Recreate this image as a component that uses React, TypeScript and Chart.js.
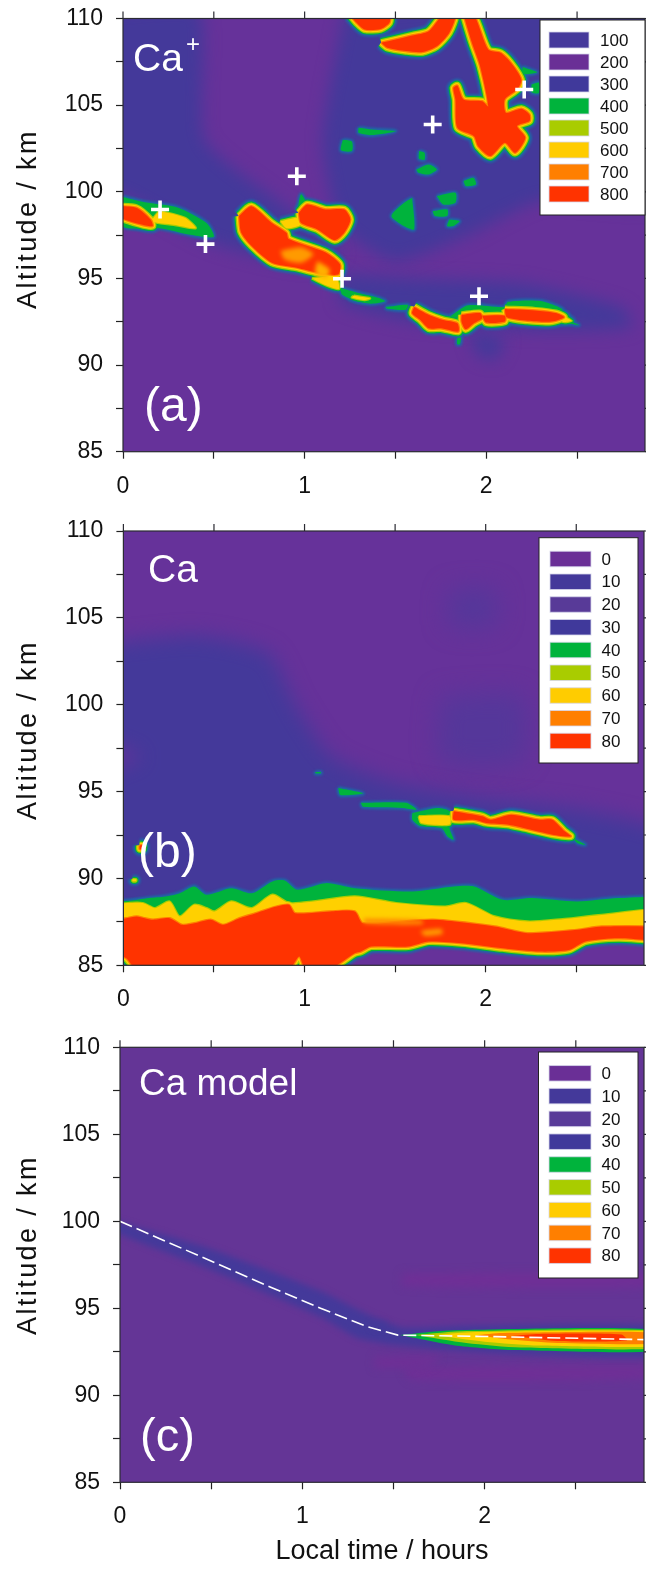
import { useEffect, useRef } from 'react';
import { Chart, registerables } from 'chart.js';

type Pt = [number, number];

// ---------- shared tick / legend values ----------
const altitudeMin = 85;
const altitudeMax = 110;
const hoursMax = 2.874;
const caIonLegendValues = ['100', '200', '300', '400', '500', '600', '700', '800'];
const caIonLegendColors = ['#45399b', '#6a2f96', '#40399b', '#00b33c', '#a9cc00', '#ffcc00', '#ff7f00', '#ff3300'];
const caLegendValues = ['0', '10', '20', '30', '40', '50', '60', '70', '80'];
const caLegendColors = ['#6a2f96', '#44399a', '#583a98', '#40399b', '#00b33c', '#a9cc00', '#ffcc00', '#ff7f00', '#ff3300'];
const contourColors = ['#1f66a6', '#00b33c', '#a9cc00', '#ffd000', '#ff7f00', '#ff3300'];
const fieldPurple = '#66329a';
const fieldBlue = '#44399a';
const fieldMid = '#55379a';

// ---------- panel (a) Ca+ ----------
const caIonBlue: Pt[][] = [
  [[-0.1, 110.5], [0.42, 110.5], [0.45, 103], [0.85, 99.5], [1.2, 96.5], [1.0, 95.8], [0.5, 97], [0, 99.8], [-0.1, 100]],
  [[1.22, 110.5], [3, 110.5], [3, 99.5], [2.3, 99.5], [1.9, 97.5], [1.5, 96], [1.2, 98], [1.1, 103]],
  [[1.2, 95.3], [1.6, 95], [2.2, 94.7], [2.75, 93.3], [2.8, 92.2], [2.3, 92], [1.6, 92.5], [1.2, 93.6]],
  [[1.9, 92], [2.1, 91.5], [2.05, 90.3], [1.95, 90.6]],
];
const caIonRed: Pt[][] = [
  [[1.25, 110.2], [1.467, 110.2], [1.467, 109.75], [1.42, 109.4], [1.33, 109.37], [1.286, 109.75]],
  [[1.422, 108.6], [1.592, 109.02], [1.683, 109.27], [1.762, 110.2], [1.83, 110.2], [1.796, 109.17], [1.728, 108.4], [1.649, 108.06], [1.558, 108.12], [1.456, 108.31]],
  [[1.875, 110.2], [1.932, 110.2], [2.011, 108.21], [2.079, 108.02], [2.136, 107.44], [2.193, 106.48], [2.17, 105.9], [2.102, 105.33], [2.109, 104.56], [2.193, 104.79], [2.238, 104.46], [2.238, 104.08], [2.17, 103.79], [2.215, 103.12], [2.159, 102.25], [2.102, 102.83], [2.023, 102.06], [1.955, 102.63], [1.932, 103.21], [1.841, 103.69], [1.83, 105.33], [1.819, 106], [1.841, 106.13], [1.875, 105.33], [1.977, 105.23], [2.011, 104.94], [1.966, 107.25], [1.921, 108.6]],
  [[-0.03, 99.17], [0.073, 99.08], [0.152, 98.4], [0.163, 98.02], [0.095, 98.12], [-0.03, 98.6]],
  [[0.639, 98.6], [0.707, 99.17], [0.82, 98.2], [0.9, 97.63], [0.912, 97.28], [1.116, 96.5], [1.195, 95.82], [1.184, 95.23], [1.07, 95.33], [0.957, 95.62], [0.82, 95.91], [0.707, 96.89], [0.65, 97.67]],
  [[0.968, 98.79], [1.014, 99.27], [1.116, 98.98], [1.218, 98.98], [1.252, 98.4], [1.218, 97.63], [1.166, 97.21], [1.07, 97.83], [0.98, 98.21]],
  [[1.603, 93.35], [1.683, 92.9], [1.762, 92.6], [1.841, 92.41], [1.846, 91.93], [1.751, 92.12], [1.683, 92.12], [1.637, 92.6], [1.592, 92.99]],
  [[1.864, 92.9], [1.966, 93], [1.977, 92.7], [1.932, 92.41], [1.887, 92.06], [1.864, 92.5]],
  [[1.977, 92.84], [2.102, 92.84], [2.102, 92.51], [2, 92.45]],
  [[2.102, 93.23], [2.27, 93.15], [2.383, 93], [2.429, 92.76], [2.36, 92.51], [2.227, 92.56], [2.113, 92.76]],
];
const caIonYellow: Pt[][] = [
  [[0.2, 98.9], [0.34, 98.5], [0.4, 97.9], [0.28, 98.1], [0.16, 98.3]],
  [[0.866, 98.3], [0.968, 98.5], [0.98, 98.1], [0.9, 97.9]],
  [[1.04, 95], [1.17, 95.1], [1.19, 94.4], [1.13, 94.55]],
  [[1.27, 94], [1.36, 93.85], [1.33, 93.75], [1.26, 93.9]],
  [[2.42, 92.85], [2.47, 92.55], [2.42, 92.5]],
];
const caIonGreen: Pt[][] = [
  [[0, 99.7], [0.12, 99.4], [0.3, 99.1], [0.46, 98.2], [0.5, 97.4], [0.38, 97.5], [0.2, 97.9], [0, 98]],
  [[0.96, 98.9], [0.98, 99.85], [1.02, 99.3], [1.1, 99]],
  [[1.195, 94.46], [1.297, 94.16], [1.41, 93.87], [1.444, 93.68], [1.365, 93.54], [1.274, 93.74], [1.206, 94.07]],
  [[1.444, 93.35], [1.569, 93.48], [1.558, 93.19], [1.456, 93.25]],
  [[1.8, 92.8], [1.9, 93.45], [2.1, 93.35], [2.12, 93.65], [2.3, 93.7], [2.42, 93.2], [2.3, 92.9], [1.9, 92.7]],
  [[2.45, 92.6], [2.51, 92.3], [2.42, 92.5]],
  [[1.297, 103.69], [1.365, 103.6], [1.501, 103.5], [1.365, 103.27], [1.297, 103.4]],
  [[1.21, 103], [1.26, 102.9], [1.26, 102.35], [1.2, 102.4]],
  [[1.63, 102.35], [1.66, 102.25], [1.66, 101.85], [1.63, 101.9]],
  [[1.615, 101.29], [1.683, 101.58], [1.728, 101.29], [1.683, 101], [1.626, 101.1]],
  [[1.875, 100.62], [1.93, 100.8], [1.943, 100.42], [1.887, 100.33]],
  [[1.592, 99.65], [1.603, 97.83], [1.546, 98.02], [1.478, 98.6], [1.546, 99.35]],
  [[1.728, 99.75], [1.83, 99.94], [1.83, 99.37], [1.762, 99.27]],
  [[1.705, 98.88], [1.785, 98.98], [1.785, 98.6], [1.717, 98.6]],
  [[1.796, 98.4], [1.853, 98.31], [1.819, 98.02], [1.785, 98.02]],
  [[1.84, 91.55], [1.86, 91.6], [1.855, 91.2], [1.84, 91.2]],
  [[2.25, 106.2], [2.29, 106.3], [2.29, 105.7], [2.25, 105.75]],
  [[2.2, 107.2], [2.28, 106.9], [2.2, 106.8]],
];
const caIonPatches: { color: string; pts: Pt[] }[] = [
  { color: '#ff9a00', pts: [[0.866, 96.6], [0.98, 96.8], [1.048, 96.4], [0.98, 95.9], [0.889, 96.1]] },
  { color: '#ffb000', pts: [[1.07, 96], [1.138, 95.5], [1.116, 95], [1.059, 95.3]] },
];
const crossHours = [0.204, 0.454, 0.957, 1.206, 1.705, 1.96, 2.209];
const crossAltitudes = [98.98, 96.98, 100.9, 94.98, 103.88, 93.97, 105.9];

// ---------- panel (b) Ca ----------
const caBlue: Pt[][] = [
  [[-0.1, 103.5], [0.4, 104], [0.8, 103], [0.95, 100], [1.15, 97], [1.5, 95.5], [2, 94.6], [2.5, 94], [3, 92.6], [3, 88], [-0.1, 88], [-0.1, 96], [0.1, 97], [-0.1, 98]],
];
const caFaintBlue: Pt[][] = [
  [[1.8, 106.6], [2.05, 106.6], [2.05, 104.6], [1.8, 104.6]],
  [[1.75, 100.5], [2.2, 100.5], [2.2, 96.8], [1.75, 96.8]],
];
const caRed: Pt[][] = [
  [[-0.05, 87.6], [0.016, 87.71], [0.073, 87.81], [0.118, 87.71], [0.164, 87.62], [0.255, 87.71], [0.323, 87.33], [0.391, 87.42], [0.482, 87.62], [0.55, 87.33], [0.641, 87.71], [0.732, 88], [0.845, 88.38], [0.914, 88.48], [0.948, 88], [1.141, 88.1], [1.277, 88.1], [1.323, 87.42], [1.709, 87.62], [2.05, 87.23], [2.232, 86.85], [2.505, 87.04], [2.641, 87.23], [3, 87.13], [3, 86.46], [2.732, 86.56], [2.55, 86.37], [2.459, 85.88], [2.3, 85.79], [2.095, 85.98], [1.868, 86.27], [1.686, 86.37], [1.573, 86.08], [1.368, 86.08], [1.311, 85.79], [1.277, 85.69], [1.141, 84.8], [1.005, 84.8], [0.97, 85.5], [0.914, 84.8], [0.073, 84.8], [0.016, 85.4], [-0.05, 85.8]],
  [[1.823, 93.87], [1.982, 93.58], [2.027, 93.38], [2.141, 93.67], [2.3, 93.38], [2.368, 93.38], [2.436, 92.71], [2.47, 92.42], [2.368, 92.52], [2.209, 92.9], [2.118, 93.1], [2.005, 93.19], [1.936, 93.38], [1.823, 93.38]],
  [[0.09, 91.9], [0.105, 91.9], [0.105, 91.7], [0.09, 91.7]],
];
const caYellow: Pt[][] = [
  [[-0.05, 88.5], [0.027, 88.58], [0.107, 88.58], [0.175, 88.29], [0.255, 88.67], [0.311, 87.81], [0.391, 88.48], [0.459, 88.29], [0.505, 88.1], [0.595, 88.67], [0.709, 88.29], [0.823, 89.06], [0.914, 88.58], [1.05, 88.67], [1.277, 88.96], [1.505, 88.58], [1.777, 88.38], [1.891, 88.58], [2.05, 87.81], [2.232, 87.52], [2.391, 87.62], [2.641, 87.9], [3, 88.19], [3, 87], [-0.05, 87]],
  [[1.63, 93.58], [1.8, 93.58], [1.8, 93.1], [1.645, 93.19]],
  [[0.05, 89.95], [0.07, 89.95], [0.07, 89.85], [0.05, 89.85]],
];
const caGreen: Pt[][] = [
  [[-0.05, 88.4], [0.027, 88.67], [0.141, 88.87], [0.232, 88.96], [0.311, 89.15], [0.391, 89.54], [0.459, 89.06], [0.595, 89.44], [0.709, 89.15], [0.823, 89.83], [0.891, 89.88], [0.959, 89.35], [1.118, 89.73], [1.277, 89.44], [1.595, 89.25], [1.823, 89.54], [1.936, 89.54], [2.095, 88.77], [2.255, 88.87], [2.505, 88.67], [2.732, 88.87], [3, 88.77], [3, 87], [-0.05, 87]],
  [[1.595, 93.77], [1.732, 94.06], [1.8, 93.87], [1.8, 92.9], [1.823, 92.23], [1.789, 92.42], [1.755, 92.9], [1.641, 93], [1.595, 93.38]],
  [[2.482, 92.33], [2.55, 91.94], [2.505, 92.04]],
  [[1.311, 94.35], [1.561, 94.35], [1.618, 93.96], [1.539, 94.06], [1.323, 94.12]],
  [[1.186, 95.2], [1.323, 94.9], [1.198, 94.8]],
  [[1.06, 96.12], [1.09, 96.12], [1.09, 96.05], [1.06, 96.05]],
];
const caPatches: { color: string; pts: Pt[] }[] = [
  { color: '#ff9a00', pts: [[1.64, 87], [1.755, 87.1], [1.76, 86.8], [1.66, 86.7]] },
  { color: '#ff8a00', pts: [[1.33, 87.7], [1.65, 87.6], [1.65, 87.35], [1.33, 87.4]] },
];

// ---------- panel (c) Ca model ----------
const modelBlue: Pt[][] = [
  [[-0.05, 100.1], [0.5, 98.4], [1.1, 96], [1.35, 94.7], [1.55, 93.9], [1.9, 94], [3, 93.95], [3, 92.3], [2.2, 92.35], [1.8, 92.6], [1.5, 92.9], [1.3, 93.3], [1.1, 94.5], [0.5, 97.2], [-0.05, 99.5]],
  [[1.38, 94.15], [1.46, 94.15], [1.46, 93.9], [1.38, 93.9]],
];
const modelLight: Pt[][] = [
  [[1.55, 97], [3, 97], [3, 96.2], [1.55, 96.3]],
  [[1.55, 91.6], [3, 91.7], [3, 91], [1.6, 90.9]],
  [[1.4, 92.2], [1.75, 92.2], [1.7, 91.7], [1.4, 91.6]],
];
const modelBandGreen: Pt[] = [[1.535, 93.46], [1.83, 93.74], [3, 93.74], [3, 92.6], [2.17, 92.6], [1.83, 92.88]];
const modelBandLime: Pt[] = [[1.62, 93.46], [1.9, 93.69], [3, 93.69], [3, 92.74], [2.2, 92.74], [1.9, 93]];
const modelBandYellow: Pt[] = [[1.72, 93.46], [1.95, 93.64], [3, 93.64], [3, 92.86], [2.3, 92.86], [2, 93.08]];
const modelBandOrange: Pt[] = [[1.95, 93.45], [2.1, 93.58], [3, 93.58], [3, 93], [2.4, 93], [2.15, 93.2]];
const modelBandRed: Pt[] = [[2.15, 93.42], [2.3, 93.53], [2.75, 93.5], [2.78, 93.15], [2.4, 93.12]];
const ionLayerHours = [0, 0.83, 1.1, 1.354, 1.524, 2.057, 2.88];
const ionLayerAltitudes = [100, 96.2, 95, 93.95, 93.46, 93.37, 93.2];

// ---------- drawing ----------
const softLayer = {
  id: 'softLayer',
  beforeDatasetDraw(chart: any, args: any) {
    const soft = chart.data.datasets[args.index].softness;
    chart.ctx.save();
    if (soft) chart.ctx.filter = `blur(${soft}px)`;
  },
  afterDatasetDraw(chart: any) {
    chart.ctx.restore();
  },
};
Chart.register(softLayer as any, ...registerables);
const FONT = '"Liberation Sans", Arial, sans-serif';
Chart.defaults.font.family = FONT;

const RIM = 2.4;

function shape(pts: Pt[], color: string, border = 0, soft = 0, tension = 0.25) {
  return {
    data: [...pts, pts[0]].map(([x, y]) => ({ x, y })),
    showLine: true,
    fill: 'shape',
    backgroundColor: color,
    borderColor: color,
    borderWidth: border,
    borderJoinStyle: 'round',
    pointRadius: 0,
    tension,
    clip: 0,
    softness: soft,
  };
}

function contours(groups: { polys: Pt[][]; top: number }[]) {
  const out: any[] = [];
  contourColors.forEach((color, level) => {
    for (const g of groups) {
      if (g.top < level) continue;
      const width = (g.top - level) * RIM + (level === 0 ? 1.5 : 0);
      for (const p of g.polys) out.push(shape(p, color, width, level === 0 ? 0.9 : 0.5));
    }
  });
  return out;
}

function series(xs: number[], ys: number[]) {
  return xs.map((x, i) => ({ x, y: ys[i] }));
}

const panelA = {
  top: 0, height: 510, left: 123, right: 645, plotTop: 18.5, plotBottom: 451.7, tickPad: 14,
  title: { baseX: 36, centerY: 219 },
  labels: [
    { text: 'Ca', x: 133, y: 71, size: 39 },
    { text: '+', x: 186, y: 52, size: 24 },
    { text: '(a)', x: 144, y: 421, size: 48 },
  ],
  legend: { x0: 540, x1: 645, y0: 20, y1: 215, sx0: 549, sx1: 589, tx: 600, first: 40, step: 22, sh: 16, values: caIonLegendValues, colors: caIonLegendColors },
  datasets: [
    ...caIonBlue.map((p) => shape(p, fieldBlue, 0, 8, 0.2)),
    ...contours([{ polys: caIonRed, top: 5 }, { polys: caIonYellow, top: 3 }, { polys: caIonGreen, top: 1 }]),
    ...caIonPatches.map((p) => shape(p.pts, p.color, 0, 2)),
    { data: series(crossHours, crossAltitudes), showLine: false, pointStyle: 'cross', pointRadius: 9, pointBorderWidth: 3.6, pointBorderColor: '#ffffff', pointBackgroundColor: '#ffffff', clip: 0 },
  ],
};

const panelB = {
  top: 510, height: 510, left: 123.4, right: 644, plotTop: 21, plotBottom: 455.3, tickPad: 14,
  title: { baseX: 36, centerY: 220 },
  labels: [
    { text: 'Ca', x: 148, y: 72, size: 39 },
    { text: '(b)', x: 138, y: 357, size: 48 },
  ],
  legend: { x0: 539, x1: 638, y0: 27.7, y1: 253, sx0: 550, sx1: 591, tx: 601.5, first: 49, step: 22.75, sh: 15.5, values: caLegendValues, colors: caLegendColors },
  datasets: [
    ...caFaintBlue.map((p) => shape(p, fieldMid, 0, 12, 0.2)),
    ...caBlue.map((p) => shape(p, fieldBlue, 0, 10, 0.2)),
    ...contours([{ polys: caRed, top: 5 }, { polys: caYellow, top: 3 }, { polys: caGreen, top: 1 }]),
    ...caPatches.map((p) => shape(p.pts, p.color, 0, 2)),
  ],
};

const panelC = {
  top: 1020, height: 551, left: 120, right: 644, plotTop: 27.3, plotBottom: 462.3, tickPad: 14,
  title: { baseX: 36, centerY: 225 },
  xTitle: 'Local time / hours',
  labels: [
    { text: 'Ca model', x: 139, y: 75, size: 37 },
    { text: '(c)', x: 140, y: 431, size: 47 },
  ],
  legend: { x0: 538.5, x1: 638, y0: 32, y1: 258, sx0: 549, sx1: 591, tx: 601.5, first: 53.3, step: 22.8, sh: 15.5, values: caLegendValues, colors: caLegendColors },
  datasets: [
    ...modelLight.map((p) => shape(p, '#6f2f96', 0, 4, 0.2)),
    ...modelBlue.map((p) => shape(p, fieldBlue, 0, 3, 0.2)),
    shape(modelBandGreen, '#00b33c', 0, 0.6),
    shape(modelBandLime, '#a9cc00', 0, 0.6),
    shape(modelBandYellow, '#ffd000', 0, 0.6),
    shape(modelBandOrange, '#ff7f00', 0, 0.6),
    shape(modelBandRed, '#ff3300', 0, 0.6),
    { data: series(ionLayerHours, ionLayerAltitudes), showLine: true, fill: false, borderColor: '#ffffff', borderWidth: 1.6, borderDash: [13, 5], pointRadius: 0, tension: 0, clip: 0 },
  ],
};

type Spec = any;

function decoration(spec: Spec) {
  return {
    id: 'decoration',
    beforeDatasetsDraw(chart: any) {
      const { ctx, chartArea: a } = chart;
      ctx.save();
      ctx.fillStyle = spec === panelC ? '#643596' : fieldPurple;
      ctx.fillRect(a.left, a.top, a.right - a.left, a.bottom - a.top);
      ctx.restore();
    },
    afterDraw(chart: any) {
      const { ctx, chartArea: a, scales } = chart;
      ctx.save();
      // frame and the mirrored ticks on the top and right
      ctx.strokeStyle = '#2b2b33';
      ctx.lineWidth = 1.2;
      ctx.strokeRect(a.left, a.top, a.right - a.left, a.bottom - a.top);
      ctx.beginPath();
      for (const t of scales.x.ticks) {
        const px = scales.x.getPixelForValue(t.value);
        ctx.moveTo(px, a.top);
        ctx.lineTo(px, a.top - 7);
      }
      for (const t of scales.y.ticks) {
        const py = scales.y.getPixelForValue(t.value);
        ctx.moveTo(a.right, py);
        ctx.lineTo(a.right + 7, py);
      }
      ctx.stroke();

      // white panel labels
      ctx.fillStyle = '#ffffff';
      ctx.textAlign = 'left';
      ctx.textBaseline = 'alphabetic';
      for (const l of spec.labels) {
        ctx.font = `${l.size}px ${FONT}`;
        ctx.fillText(l.text, l.x, l.y);
      }

      // legend
      const g = spec.legend;
      ctx.fillStyle = '#ffffff';
      ctx.fillRect(g.x0, g.y0, g.x1 - g.x0, g.y1 - g.y0);
      ctx.strokeStyle = '#222';
      ctx.lineWidth = 1;
      ctx.strokeRect(g.x0, g.y0, g.x1 - g.x0, g.y1 - g.y0);
      ctx.font = `17px ${FONT}`;
      ctx.textBaseline = 'middle';
      g.values.forEach((v: string, i: number) => {
        const cy = g.first + i * g.step;
        ctx.fillStyle = g.colors[i];
        ctx.fillRect(g.sx0, cy - g.sh / 2, g.sx1 - g.sx0, g.sh);
        ctx.strokeStyle = 'rgba(215,215,235,0.8)';
        ctx.strokeRect(g.sx0, cy - g.sh / 2, g.sx1 - g.sx0, g.sh);
        ctx.fillStyle = '#111';
        ctx.fillText(v, g.tx, cy + 1);
      });

      // y axis title
      ctx.save();
      ctx.translate(spec.title.baseX, spec.title.centerY);
      ctx.rotate(-Math.PI / 2);
      ctx.textAlign = 'center';
      ctx.textBaseline = 'alphabetic';
      ctx.fillStyle = '#111';
      ctx.font = `27px ${FONT}`;
      (ctx as any).letterSpacing = '2.4px';
      ctx.fillText('Altitude / km', 0, 0);
      ctx.restore();
      ctx.restore();
    },
  };
}

function buildConfig(spec: Spec) {
  const xAxisHeight = spec.height - spec.plotBottom;
  return {
    type: 'scatter',
    data: { datasets: [...spec.datasets].reverse() },
    options: {
      responsive: false,
      animation: false,
      devicePixelRatio: 1,
      layout: { autoPadding: false, padding: { left: 0, top: spec.plotTop, right: 646 - spec.right, bottom: 0 } },
      plugins: { legend: { display: false }, tooltip: { enabled: false } },
      scales: {
        x: {
          type: 'linear',
          min: 0,
          max: hoursMax,
          afterFit(s: any) {
            s.height = xAxisHeight;
            s.paddingLeft = s.paddingRight = s.paddingTop = s.paddingBottom = 0;
          },
          grid: { display: true, drawOnChartArea: false, drawTicks: true, tickLength: 7, tickColor: '#222', tickWidth: 1.2 },
          border: { display: false },
          title: spec.xTitle
            ? { display: true, text: spec.xTitle, color: '#111', font: { size: 27 }, padding: { top: 0, bottom: 3 } }
            : { display: false },
          ticks: {
            stepSize: 0.5,
            includeBounds: false,
            autoSkip: false,
            maxRotation: 0,
            padding: spec.tickPad,
            color: '#111',
            font: { size: 23 },
            callback: (v: number) => (Number.isInteger(v) ? String(v) : ''),
          },
        },
        y: {
          type: 'linear',
          min: altitudeMin,
          max: altitudeMax,
          afterFit(s: any) {
            s.width = spec.left;
            s.paddingLeft = s.paddingRight = s.paddingTop = s.paddingBottom = 0;
          },
          grid: { display: true, drawOnChartArea: false, drawTicks: true, tickLength: 7, tickColor: '#222', tickWidth: 1.2 },
          border: { display: false },
          ticks: {
            stepSize: 2.5,
            includeBounds: false,
            autoSkip: false,
            padding: 13,
            color: '#111',
            font: { size: 23 },
            callback: (v: number) => (v % 5 === 0 ? String(v) : ''),
          },
        },
      },
    },
    plugins: [decoration(spec)],
  };
}

function Panel({ spec }: { spec: Spec }) {
  const ref = useRef<HTMLCanvasElement>(null);
  useEffect(() => {
    const chart = new Chart(ref.current as HTMLCanvasElement, buildConfig(spec) as any);
    return () => chart.destroy();
  }, [spec]);
  return (
    <canvas
      ref={ref}
      width={646}
      height={spec.height}
      style={{ position: 'absolute', left: 0, top: spec.top, display: 'block' }}
    />
  );
}

export default function App() {
  return (
    <div style={{ position: 'absolute', left: 0, top: 0, width: 646, height: 1571, overflow: 'hidden', background: '#fff' }}>
      <Panel spec={panelA} />
      <Panel spec={panelB} />
      <Panel spec={panelC} />
    </div>
  );
}
